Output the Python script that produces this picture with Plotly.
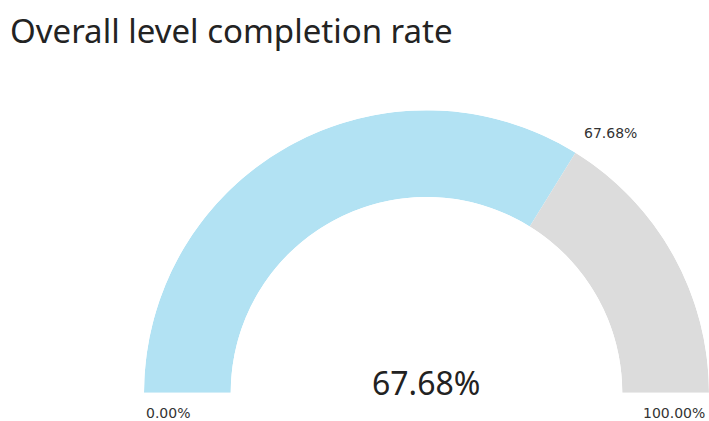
import math
import plotly.graph_objects as go

# Gauge data
title_text = "Overall level completion rate"
value = 67.68
gauge_min = 0.0
gauge_max = 100.0
segment_names = ["Completed", "Remaining"]
segment_colors = ["#B2E2F3", "#DCDCDC"]

W, H = 709, 421

# Each segment's start/end in gauge units, mapped onto a 180-degree sector
starts = [gauge_min, value]
ends = [value, gauge_max]
span = gauge_max - gauge_min


def to_deg(v):
    return (v - gauge_min) / span * 180.0


fig = go.Figure()
for name, s, e, c in zip(segment_names, starts, ends, segment_colors):
    fig.add_trace(go.Barpolar(
        r=[1.0],
        theta=[(to_deg(s) + to_deg(e)) / 2],
        width=[to_deg(e) - to_deg(s)],
        marker=dict(color=c, line=dict(width=0)),
        name=name,
        hoverinfo="skip",
        showlegend=False,
    ))

# Layout geometry of the half-ring (pixels)
left_px, right_px = 144, 709
bottom_px, top_px = 393, 110
hole = 0.693

radius_px = min((right_px - left_px) / 2, bottom_px - top_px)
cx = (left_px + right_px) / 2
cy = bottom_px


def px(x, y):
    return x / W, 1 - y / H


fig.update_layout(
    width=W, height=H,
    margin=dict(l=0, r=0, t=0, b=0),
    paper_bgcolor="white",
    plot_bgcolor="white",
    title=dict(
        text=title_text,
        x=10 / W, xanchor="left",
        y=1 - 31 / H, yanchor="middle",
        font=dict(family="Noto Sans", size=33, color="#232323"),
    ),
    polar=dict(
        domain=dict(x=[left_px / W, right_px / W], y=[1 - bottom_px / H, 1 - top_px / H]),
        sector=[0, 180],
        hole=hole,
        bgcolor="rgba(0,0,0,0)",
        angularaxis=dict(visible=False, direction="clockwise", rotation=180),
        radialaxis=dict(visible=False, range=[0, 1]),
    ),
)

# Value label placed just outside the outer edge at the boundary between segments
ang = math.radians(180 - to_deg(value))
bx = cx + radius_px * math.cos(ang)
by = cy - radius_px * math.sin(ang)

fmt = lambda v: f"{v:.2f}%"
annotations = [
    dict(text=fmt(value), x=px(cx, 0)[0], y=px(0, 382)[1], xanchor="center", yanchor="middle",
         font=dict(family="Noto Sans", size=32, color="#222222")),
    dict(text=fmt(value), x=px(bx, 0)[0], y=px(0, by)[1], xanchor="left", yanchor="bottom",
         xshift=7, yshift=10, font=dict(family="DejaVu Sans", size=14, color="#333333")),
    dict(text=fmt(gauge_min), x=px(left_px, 0)[0], y=px(0, 413)[1], xanchor="left", yanchor="middle",
         font=dict(family="DejaVu Sans", size=14, color="#333333")),
    dict(text=fmt(gauge_max), x=px(707, 0)[0], y=px(0, 413)[1], xanchor="right", yanchor="middle",
         font=dict(family="DejaVu Sans", size=14, color="#333333")),
]
for a in annotations:
    a.update(xref="paper", yref="paper", showarrow=False)
fig.update_layout(annotations=annotations)

fig.write_html("out.html")
